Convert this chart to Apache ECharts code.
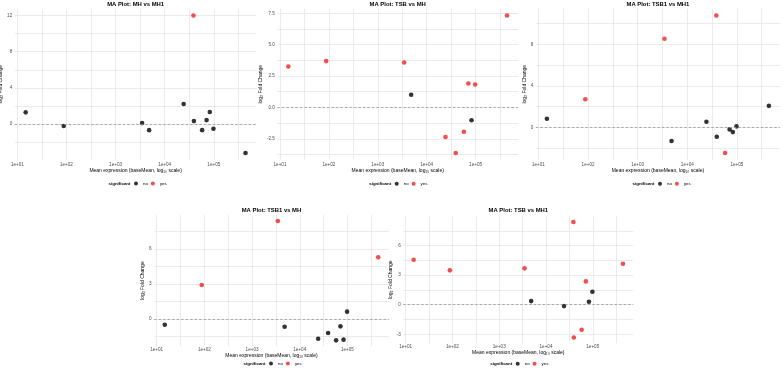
<!DOCTYPE html>
<html>
<head>
<meta charset="utf-8">
<script src="https://cdn.jsdelivr.net/npm/echarts@6/dist/echarts.min.js"></script>
<style>
  html, body { margin: 0; background: #fff; }
  #chart { width: 783px; height: 369px; }
</style>
</head>
<body>
<div id="chart"></div>
<script>
// baseMean of each gene (same for every contrast)
const baseMean = [14.8, 88, 3470, 4820, 24300, 38500, 39300, 57800, 71300, 82800, 98200, 441600];

// log2 fold change per contrast, null = not plotted
const lfcMHvsMH1   = [1.30, -0.22, 0.11, -0.67, 2.22, 12.0, 0.33, -0.67, 0.44, 1.33, -0.52, -3.19];
const sigMHvsMH1   = [0, 0, 0, 0, 0, 1, 0, 0, 0, 0, 0, 0];
const lfcTSBvsMH   = [3.26, 3.69, 3.58, 1.01, -2.36, null, -3.63, -1.94, 1.91, -1.03, 1.83, 7.32];
const sigTSBvsMH   = [1, 1, 1, 0, 1, 0, 1, 1, 1, 0, 1, 1];
const lfcTSB1vsMH1 = [0.83, 2.72, 8.54, -1.31, 0.54, 10.78, -0.90, -2.46, -0.19, -0.45, 0.10, 2.08];
const sigTSB1vsMH1 = [0, 1, 1, 0, 0, 1, 0, 1, 0, 0, 0, 0];
const lfcTSB1vsMH  = [-0.49, 2.91, 8.40, -0.66, -1.69, null, -1.20, -1.83, -0.63, -1.77, 0.63, 5.29];
const sigTSB1vsMH  = [0, 1, 1, 0, 0, 0, 0, 0, 0, 0, 0, 1];
const lfcTSBvsMH1  = [4.57, 3.49, 3.69, 0.37, -0.14, 8.39, -3.32, -2.54, 2.37, 0.30, 1.32, 4.16];
const sigTSBvsMH1  = [1, 1, 1, 0, 0, 1, 1, 1, 1, 0, 0, 1];

// tick labels
const xMajor = [1e1, 1e2, 1e3, 1e4, 1e5];
const xMinor = [31.6228, 316.228, 3162.28, 31622.8, 316228];
const yMajorMHvsMH1 = [0, 4, 8, 12];
const yMinorMHvsMH1 = [-2, 2, 6, 10];
const yMajorTSBvsMH = [-2.5, 0, 2.5, 5, 7.5];
const yMinorTSBvsMH = [-3.75, -1.25, 1.25, 3.75, 6.25];
const yMajorTSB1vsMH1 = [0, 4, 8];
const yMinorTSB1vsMH1 = [-2, 2, 6, 10];
const yMajorTSB1vsMH = [0, 3, 6];
const yMinorTSB1vsMH = [-1.5, 1.5, 4.5, 7.5];
const yMajorTSBvsMH1 = [-3, 0, 3, 6];
const yMinorTSBvsMH1 = [-1.5, 1.5, 4.5, 7.5];

const panels = [
  { title: 'MA Plot: MH vs MH1', lfc: lfcMHvsMH1, sig: sigMHvsMH1, yMajor: yMajorMHvsMH1, yMinor: yMinorMHvsMH1, dec: 0 },
  { title: 'MA Plot: TSB vs MH', lfc: lfcTSBvsMH, sig: sigTSBvsMH, yMajor: yMajorTSBvsMH, yMinor: yMinorTSBvsMH, dec: 1 },
  { title: 'MA Plot: TSB1 vs MH1', lfc: lfcTSB1vsMH1, sig: sigTSB1vsMH1, yMajor: yMajorTSB1vsMH1, yMinor: yMinorTSB1vsMH1, dec: 0 },
  { title: 'MA Plot: TSB1 vs MH', lfc: lfcTSB1vsMH, sig: sigTSB1vsMH, yMajor: yMajorTSB1vsMH, yMinor: yMinorTSB1vsMH, dec: 0 },
  { title: 'MA Plot: TSB vs MH1', lfc: lfcTSBvsMH1, sig: sigTSBvsMH1, yMajor: yMajorTSBvsMH1, yMinor: yMinorTSBvsMH1, dec: 0 }
];

// layout: panel box [left, top, width, height], name gaps, legend spot
const layout = [
  { box: [14.7, 8.7, 241.8, 151.1], yGap: 9, xGap: 7.7, xMargin: 2, legendX: 134, legendY: 181.6, titleY: 4.3 },
  { box: [277.4, 8.7, 240.6, 151.1], yGap: 13.2, xGap: 7.7, xMargin: 2, legendX: 394.7, legendY: 181.8, titleY: 4.3 },
  { box: [535.8, 8.7, 244.2, 151.1], yGap: 6.6, xGap: 7.7, xMargin: 2, legendX: 658, legendY: 181.8, titleY: 4.3 },
  { box: [154.1, 215, 234.8, 131.3], yGap: 6.6, xGap: 6.2, xMargin: 1, legendX: 269, legendY: 361.6, titleY: 210.3 },
  { box: [403.2, 216.3, 230.2, 126.9], yGap: 7.4, xGap: 7, xMargin: 1, legendX: 515.7, legendY: 361.8, titleY: 210 }
];

const FONT = 'Liberation Sans, Arial, sans-serif';
const colors = { no: '#000000', yes: '#f0201f' };

const pad = (lo, hi) => { const d = (hi - lo) * 0.05; return [lo - d, hi + d]; };

const grid = [], xAxis = [], yAxis = [], series = [], legend = [], graphic = [];

panels.forEach((p, i) => {
  const L = layout[i];
  const [left, top, width, height] = L.box;
  grid.push({ left, top, width, height, containLabel: false, outerBoundsMode: 'none' });

  const xs = baseMean.filter((b, k) => p.lfc[k] != null).map(Math.log10);
  const xr = pad(Math.min(...xs), Math.max(...xs));
  const ys = p.lfc.filter(v => v != null);
  const yr = pad(Math.min(...ys), Math.max(...ys));

  xAxis.push({
    type: 'log', logBase: 10, gridIndex: i,
    min: Math.pow(10, xr[0]), max: Math.pow(10, xr[1]),
    name: 'Mean expression (baseMean, log\u2081\u2080 scale)',
    nameLocation: 'middle', nameGap: L.xGap,
    nameTextStyle: { fontSize: 5, color: '#000', fontFamily: FONT },
    axisLine: { show: false },
    axisTick: { show: false, customValues: xMajor.concat(xMinor) },
    axisLabel: {
      customValues: xMajor, margin: L.xMargin, fontSize: 4.6, color: '#4d4d4d', fontFamily: FONT,
      formatter: v => '1e+' + String(Math.round(Math.log10(v))).padStart(2, '0')
    },
    splitLine: { show: true, lineStyle: { color: '#e6e6e6', width: 0.8 } }
  });

  yAxis.push({
    type: 'value', gridIndex: i, min: yr[0], max: yr[1],
    name: 'log\u2082 Fold Change', nameLocation: 'middle', nameRotate: 90, nameGap: L.yGap,
    nameTextStyle: { fontSize: 5, color: '#000', fontFamily: FONT },
    axisLine: { show: false },
    axisTick: { show: false, customValues: p.yMajor.concat(p.yMinor) },
    axisLabel: {
      customValues: p.yMajor, margin: 2.5, fontSize: 4.6, color: '#4d4d4d', fontFamily: FONT,
      formatter: v => v.toFixed(p.dec)
    },
    splitLine: { show: true, lineStyle: { color: '#e6e6e6', width: 0.8 } }
  });

  const pts = { no: [], yes: [] };
  baseMean.forEach((b, k) => {
    if (p.lfc[k] == null) return;
    pts[p.sig[k] ? 'yes' : 'no'].push([b, p.lfc[k]]);
  });
  ['no', 'yes'].forEach(name => {
    const s = {
      name, type: 'scatter', xAxisIndex: i, yAxisIndex: i,
      data: pts[name], symbol: 'circle', symbolSize: 4.6,
      itemStyle: { color: colors[name] }
    };
    if (name === 'no') {
      s.markLine = {
        silent: true, symbol: 'none', label: { show: false },
        lineStyle: { color: '#9a9a9a', type: [2.5, 2], width: 0.8 },
        data: [{ yAxis: 0 }]
      };
    }
    series.push(s);
  });

  legend.push({
    data: ['no', 'yes'], left: L.legendX, top: L.legendY,
    icon: 'circle', itemWidth: 4, itemHeight: 4, itemGap: 3, padding: 0,
    textStyle: { fontSize: 4.4, color: '#000', fontFamily: FONT }
  });

  graphic.push({
    type: 'text', x: left + width / 2, y: L.titleY,
    style: { text: p.title, align: 'center', verticalAlign: 'middle', fill: '#000',
             font: 'bold 5.9px ' + FONT }
  });
  graphic.push({
    type: 'text', x: L.legendX - 3.5, y: L.legendY + 2.3,
    style: { text: 'significant', align: 'right', verticalAlign: 'middle', fill: '#000',
             font: 'bold 4.4px ' + FONT }
  });
});

const chart = echarts.init(document.getElementById('chart'));
chart.setOption({
  animation: false,
  backgroundColor: '#fff',
  grid, xAxis, yAxis, series, legend, graphic
});
</script>
</body>
</html>
